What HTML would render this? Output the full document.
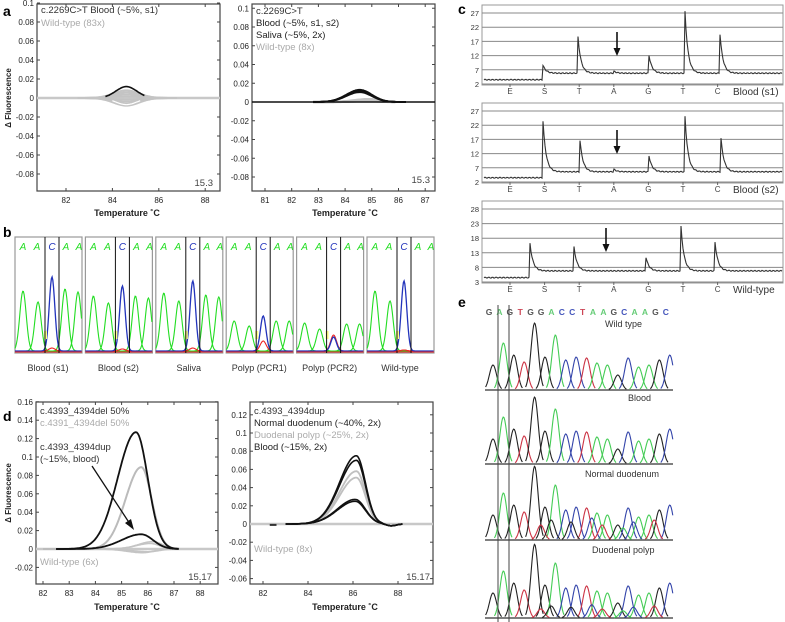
<!DOCTYPE html>
<html><head><meta charset="utf-8"><style>
html,body{margin:0;padding:0;background:#fff;}
svg{display:block;font-family:"Liberation Sans",Arial,sans-serif;}
</style></head><body>
<svg id="fig" width="785" height="622" viewBox="0 0 785 622" xmlns="http://www.w3.org/2000/svg"></svg>
<script>
// ---------- DATA ----------
const aLeftBlack=[[84.6,0.012,0.45,0.45]];
const aLeftGray=[0.008,0.006,0.004,0.002,-0.002,-0.004,-0.006,-0.008];
const aLeftWhite=[[84.6,-0.007,0.45,0.45]];
const aRightBlack=[0.013,0.012,0.011,0.0105];
const aRightGray=[0.003,0.002,0.001];
const aXTicksL=[82,84,86,88];
const aXTicksR=[81,82,83,84,85,86,87];
const aYTicks=[0.1,0.08,0.06,0.04,0.02,0,-0.02,-0.04,-0.06,-0.08];
const bLabels=["Blood (s1)","Blood (s2)","Saliva","Polyp (PCR1)","Polyp (PCR2)","Wild-type"];
const bGreen=[[60,49,62,59],[55,48,55,53],[58,50,56,54],[30,25,30,30],[28,22,27,27],[60,50,0,0]];
const bBlue=[74,65,70,35,14,70];
const bRed=[3,2,3,10,16,1];
const cLetters=["E","S","T","A","G","T","C"];
const c1Peaks=[0,9,22.5,6.5,13.5,27.5,21.5];
const c2Peaks=[0,26,20,6.5,12.5,25,19];
const c3Peaks=[0,17.5,17.5,7,12.5,22,18];
const c1Base=[3.5,5.8];const c2Base=[3.5,5.6];const c3Base=[4.5,6.8];
const c1Ticks=[2,7,12,17,22,27];const c2Ticks=[2,7,12,17,22,27];const c3Ticks=[3,8,13,18,23,28];
const dLeftBlack=[[85.55,0.127,0.7,0.45],[85.75,0.016,0.75,0.45]];
const dLeftGray=[[85.75,0.089,0.6,0.4]];
const dLeftLight=[[86.2,0.008,0.55,0.35],[86.1,0.006,0.55,0.35],[86.0,-0.003,0.6,0.4],[85.8,-0.004,0.6,0.4]];
const dRightBlack=[[86.15,0.075,0.75,0.4],[86.15,0.07,0.75,0.4],[86.1,0.027,0.8,0.45],[86.1,0.025,0.8,0.45]];
const dRightGray=[[86.15,0.058,0.75,0.4],[86.15,0.051,0.75,0.4]];
const dYTicksL=[0.16,0.14,0.12,0.1,0.08,0.06,0.04,0.02,0,-0.02];
const dYTicksR=[0.12,0.1,0.08,0.06,0.04,0.02,0,-0.02,-0.04,-0.06];
const dXTicksL=[82,83,84,85,86,87,88];
const dXTicksR=[82,84,86,88];
const eSeq=["G","A","G","T","G","G","A","C","C","T","A","A","G","C","A","A","G","C"];
const ePeaksWT=[[0,25,"k"],[1,47,"g"],[2,35,"k"],[3,28,"r"],[4,67,"k"],[5,33,"k"],[6,55,"g"],[7,30,"b"],[8,33,"b"],[9,32,"r"],[10,27,"g"],[11,25,"g"],[12,15,"k"],[13,32,"b"],[14,23,"g"],[15,25,"g"],[16,30,"k"],[17,35,"b"]];
const ePeaksND=[[4.6,15,"r"],[5.6,20,"k"],[7.5,18,"k"],[9.5,22,"b"],[10.5,15,"r"],[12.5,12,"g"],[13.5,18,"b"],[15.5,20,"r"]];
// ---------- HELPERS ----------
const svg=document.getElementById('fig');
const NS="http://www.w3.org/2000/svg";
function mk(tag,attrs,parent){const e=document.createElementNS(NS,tag);for(const k in attrs)e.setAttribute(k,attrs[k]);(parent||svg).appendChild(e);return e;}
function txt(x,y,s,size,fill,anchor,weight,parent){const t=mk('text',{x:x,y:y,'font-size':size,fill:fill||'#222','text-anchor':anchor||'start','font-weight':weight||'normal'},parent);t.textContent=s;return t;}
function skew(t,p){const w=t<p[0]?p[2]:p[3];return p[1]*Math.exp(-0.5*Math.pow((t-p[0])/w,2));}
function curvePath(X,Y,t0,t1,fn){let d="";for(let t=t0;t<=t1+1e-9;t+=0.04){d+=(d?"L":"M")+X(t).toFixed(1)+","+Y(fn(t)).toFixed(1);}return d;}
function frame(x0,y0,x1,y1,parent){return mk('rect',{x:x0,y:y0,width:x1-x0,height:y1-y0,fill:'none',stroke:'#444','stroke-width':1.2},parent);}

[["a",3,16],["b",3,237],["c",458,14],["d",3,421],["e",458,307]].forEach(l=>{const t=txt(l[1],l[2],l[0],14,'#000','start','bold');

});

function meltPanel(name,x0,y0,x1,y1,X,Y,xt,yt){
 const g=mk('g',{});
 
 
 frame(x0,y0,x1,y1,g);
 yt.forEach(v=>{const y=Y(v);mk('line',{x1:x0,y1:y,x2:x0+3,y2:y,stroke:'#444'},g);mk('line',{x1:x1,y1:y,x2:x1-3,y2:y,stroke:'#444'},g);
  const l=txt(x0-3,y+3,String(v),8,'#222','end','normal',g);
  
  });
 xt.forEach(v=>{const x=X(v);mk('line',{x1:x,y1:y1,x2:x,y2:y1-3,stroke:'#444'},g);mk('line',{x1:x,y1:y0,x2:x,y2:y0+3,stroke:'#444'},g);
  const l=txt(x,y1+12,String(v),8,'#222','middle','normal',g);
  
  });
 return g;
}
// a-left
const aLX=t=>66+(t-82)*23.2, aLY=v=>98-v*950;
const gaL=meltPanel('melt-plot-a-left',37,4,220,191,aLX,aLY,aXTicksL,aYTicks);
mk('line',{x1:37,y1:aLY(0),x2:220,y2:aLY(0),stroke:'#c8c8c8','stroke-width':2.5},gaL);
aLeftGray.forEach(a=>{const p=mk('path',{d:curvePath(aLX,aLY,82.5,86.8,t=>skew(t,[84.6,a,0.55,0.55])),fill:'none',stroke:'#c4c4c4','stroke-width':2},gaL);
 
 });
aLeftWhite.forEach(c=>{mk('path',{d:curvePath(aLX,aLY,84,85.2,t=>skew(t,c)),fill:'none',stroke:'#fff','stroke-width':1.2},gaL);});
aLeftBlack.forEach(c=>{const p=mk('path',{d:curvePath(aLX,aLY,83.7,85.4,t=>skew(t,c)),fill:'none',stroke:'#111','stroke-width':1.6},gaL);
 
 });
txt(41,13,"c.2269C>T Blood (~5%, s1)",9.5,'#333','start','normal',gaL);
txt(41,26,"Wild-type (83x)",9.5,'#aaa','start','normal',gaL);
txt(213,186,"15.3",9.5,'#444','end','normal',gaL);
const ta1=txt(127,216,"Temperature ˚C",9,'#222','middle','bold',gaL);


const ya=txt(0,0,"Δ Fluorescence",8,'#222','middle','bold');
ya.setAttribute('transform','translate(11,98) rotate(-90)');


// a-right
const aRX=t=>265+(t-81)*26.7, aRY=v=>102-v*937.5;
const gaR=meltPanel('melt-plot-a-right',252,4,435,191,aRX,aRY,aXTicksR,aYTicks);
aRightGray.forEach(a=>{mk('path',{d:curvePath(aRX,aRY,82.8,85.9,t=>skew(t,[84.9,a,0.55,0.35])),fill:'none',stroke:'#c4c4c4','stroke-width':2.5},gaR);});
mk('line',{x1:252,y1:aRY(0),x2:435,y2:aRY(0),stroke:'#111','stroke-width':1.6},gaR);
aRightBlack.forEach(a=>{const p=mk('path',{d:curvePath(aRX,aRY,82.8,86.3,t=>skew(t,[84.55,a,0.5,0.45])),fill:'none',stroke:'#111','stroke-width':1.8},gaR);
 
 });
txt(256,14,"c.2269C>T",9.5,'#333','start','normal',gaR);
txt(256,26,"Blood (~5%, s1, s2)",9.5,'#222','start','normal',gaR);
txt(256,38,"Saliva (~5%, 2x)",9.5,'#222','start','normal',gaR);
txt(256,50,"Wild-type (8x)",9.5,'#aaa','start','normal',gaR);
txt(430,183,"15.3",9.5,'#444','end','normal',gaR);
txt(345,216,"Temperature ˚C",9,'#222','middle','bold',gaR);

// ---------- PANEL B ----------
const bCol={g:'#22dd22',b:'#2233bb',r:'#ee2222',k:'#111'};
bLabels.forEach((lab,i)=>{
 const bx=15+i*70.4, top=237, bot=353, base=351;
 const g=mk('g',{});
 
 
 const w=Math.min(67,435-bx);
 mk('rect',{x:bx,y:top,width:w,height:bot-top,fill:'#fff',stroke:'#999','stroke-width':1.2},g);
 const offs=[8,23,50,63];
 const pk=(c,h,sd)=>{let d="";for(let x=0;x<=w;x+=0.7){const v=h*Math.exp(-0.5*Math.pow((x-c)/sd,2));d+=(d?"L":"M")+(bx+x).toFixed(1)+","+(base-v).toFixed(1);}return d;};
 let gd="";bGreen[i].forEach((h,j)=>{if(h>0&&offs[j]<w)gd+=pk(offs[j],h,3.2);});
 mk('path',{d:gd,fill:'none',stroke:bCol.g,'stroke-width':1.1},g);
 mk('path',{d:pk(37,bRed[i],3),fill:'none',stroke:bCol.r,'stroke-width':1.1},g);
 mk('path',{d:pk(37,bBlue[i],2.8),fill:'none',stroke:bCol.b,'stroke-width':1.3},g);
 mk('line',{x1:bx,y1:base+1,x2:bx+w,y2:base+1,stroke:bCol.r,'stroke-width':1},g);
 mk('rect',{x:bx+29,y:base-20,width:3,height:8,fill:'#ffff88'},g);
 mk('line',{x1:bx+30,y1:top,x2:bx+30,y2:bot,stroke:'#111','stroke-width':1},g);
 if(bx+44<435)mk('line',{x1:bx+44,y1:top,x2:bx+44,y2:bot,stroke:'#111','stroke-width':1},g);
 ["A","A","C","A","A"].forEach((L,j)=>{const xx=[8,22,37,51,64][j];if(bx+xx<435)txt(bx+xx,250,L,10,L==="C"?bCol.b:bCol.g,'middle','normal',g).setAttribute('font-style','italic');});
 const l=txt(bx+33,371,lab,9,'#333','middle','normal',g);
 
 
});

// ---------- PANEL C ----------
const cX=i=>510+i*34.6;
function pyro(name,top,bot,yv0,yv1,ticks,peaks,base,label,arrowX,shift){
 const g=mk('g',{});
 
 
 const Y=v=>bot-(v-yv0)*(bot-(top+8))/(yv1-yv0);
 mk('rect',{x:482,y:top,width:301,height:bot-top+1,fill:'#fff',stroke:'#999','stroke-width':1},g);
 ticks.forEach(v=>{mk('line',{x1:482,y1:Y(v),x2:783,y2:Y(v),stroke:'#888','stroke-width':1},g);
  const l=txt(479,Y(v)+3,String(v),7.5,'#333','end','normal',g);
  
  });
 let d="";const sX=cX(1)+shift[1];
 for(let x=484;x<=782;x+=1){
  let v=x<sX?base[0]:base[1];
  peaks.forEach((h,i)=>{const px=cX(i)+shift[i];if(h>0&&x>=px){v+=(h-base[1])*Math.exp(-(x-px)/3);}});
  v+=Math.sin(x*1.7)*0.18;
  d+=(d?"L":"M")+x+","+Y(v).toFixed(1);
 }
 const p=mk('path',{d:d,fill:'none',stroke:'#333','stroke-width':1.1},g);
 
 
 cLetters.forEach((L,i)=>{mk('line',{x1:cX(i),y1:bot,x2:cX(i),y2:bot+3,stroke:'#666'},g);txt(cX(i),bot+10,L,8,'#444','middle','normal',g);});
 const lb=txt(733,bot+11,label,10,'#333','start','normal',g);
 
 
 const ar=mk('g',{},g);
 
 
 mk('line',{x1:arrowX,y1:top+27,x2:arrowX,y2:top+45,stroke:'#111','stroke-width':1.6},ar);
 mk('path',{d:`M${arrowX-3.5},${top+43}L${arrowX+3.5},${top+43}L${arrowX},${top+51}Z`,fill:'#111'},ar);
}
pyro('pyrogram-blood-s1',5,84,2,27,c1Ticks,c1Peaks,c1Base,"Blood (s1)",617,[0,-2,-2,0,0,2,2]);
pyro('pyrogram-blood-s2',103,182,2,27,c2Ticks,c2Peaks,c2Base,"Blood (s2)",617,[0,-2,0,0,0,2,3]);
pyro('pyrogram-wild-type',201,282,3,28,c3Ticks,c3Peaks.map((v,i)=>i===3?0:v),c3Base,"Wild-type",606,[0,-15,-6,0,-3,-2,-3]);

// ---------- PANEL D ----------
const dLX=t=>43+(t-82)*26.2, dLY=v=>549-v*920;
const gdL=meltPanel('melt-plot-d-left',36,402,218,584,dLX,dLY,dXTicksL,dYTicksL);
mk('line',{x1:36,y1:dLY(0),x2:218,y2:dLY(0),stroke:'#c8c8c8','stroke-width':2.5},gdL);
dLeftLight.forEach(c=>{mk('path',{d:curvePath(dLX,dLY,83.5,87.2,t=>skew(t,c)),fill:'none',stroke:'#c4c4c4','stroke-width':1.6},gdL);});
dLeftGray.forEach(c=>{const p=mk('path',{d:curvePath(dLX,dLY,82,87.2,t=>skew(t,c)),fill:'none',stroke:'#bbb','stroke-width':2},gdL);
 
 });
dLeftBlack.forEach(c=>{const p=mk('path',{d:curvePath(dLX,dLY,82.5,87.2,t=>skew(t,c)),fill:'none',stroke:'#111','stroke-width':1.8},gdL);
 
 });
txt(40,414,"c.4393_4394del  50%",9.5,'#333','start','normal',gdL);
txt(40,426,"c.4391_4394del  50%",9.5,'#aaa','start','normal',gdL);
txt(40,450,"c.4393_4394dup",9.5,'#333','start','normal',gdL);
txt(40,462,"(~15%, blood)",9.5,'#333','start','normal',gdL);
txt(40,565,"Wild-type (6x)",9.5,'#aaa','start','normal',gdL);
txt(212,580,"15.17",9.5,'#444','end','normal',gdL);
const dar=mk('g',{},gdL);


mk('line',{x1:92,y1:466,x2:130,y2:524,stroke:'#111','stroke-width':1.3},dar);
mk('path',{d:'M134,530L125,523L131,519Z',fill:'#111'},dar);
txt(127,610,"Temperature ˚C",9,'#222','middle','bold',gdL);
const yd=txt(0,0,"Δ Fluorescence",8,'#222','middle','bold');
yd.setAttribute('transform','translate(11,493) rotate(-90)');


// d right
const dRX=t=>263+(t-82)*22.5, dRY=v=>524-v*910;
const gdR=meltPanel('melt-plot-d-right',250,402,433,584,dRX,dRY,dXTicksR,dYTicksR);
mk('line',{x1:250,y1:dRY(0),x2:433,y2:dRY(0),stroke:'#c8c8c8','stroke-width':2.5},gdR);
mk('line',{x1:dRX(82.3),y1:dRY(-0.001),x2:dRX(82.6),y2:dRY(-0.001),stroke:'#333','stroke-width':2},gdR);
const dipR=t=>t>87.3?-0.002*Math.exp(-Math.pow((t-87.7)/0.3,2)):0;
dRightGray.forEach(c=>{mk('path',{d:curvePath(dRX,dRY,83,87.4,t=>skew(t,c)),fill:'none',stroke:'#c0c0c0','stroke-width':1.8},gdR);});
dRightBlack.forEach(c=>{const p=mk('path',{d:curvePath(dRX,dRY,83,88.2,t=>skew(t,c)+dipR(t)),fill:'none',stroke:'#111','stroke-width':1.6},gdR);
 
 });
txt(254,414,"c.4393_4394dup",9.5,'#333','start','normal',gdR);
txt(254,426,"Normal duodenum (~40%, 2x)",9.5,'#222','start','normal',gdR);
txt(254,438,"Duodenal polyp (~25%, 2x)",9.5,'#aaa','start','normal',gdR);
txt(254,450,"Blood (~15%, 2x)",9.5,'#222','start','normal',gdR);
txt(254,552,"Wild-type (8x)",9.5,'#aaa','start','normal',gdR);
txt(430,580,"15.17",9.5,'#444','end','normal',gdR);
txt(345,610,"Temperature ˚C",9,'#222','middle','bold',gdR);

// ---------- PANEL E ----------
const eCol={k:'#222',g:'#44cc55',r:'#cc3344',b:'#3344aa'};
const eX=i=>493+i*10.4;
const eBases=[390,464,540,618];
const eLabels=[["Wild type",605,327],["Blood",628,401],["Normal duodenum",585,477],["Duodenal polyp",592,553]];
eSeq.forEach((L,i)=>{const c={G:'#555',A:'#66cc77',T:'#cc4455',C:'#4455bb'}[L];const t=txt(eX(i)-4,315,L,8.5,c,'middle','bold');
 
 });
eBases.forEach((base,k)=>{
 const g=mk('g',{});
 
 
 mk('line',{x1:485,y1:base,x2:673,y2:base,stroke:'#333','stroke-width':1.2},g);
 const pks=k===2||k===3?ePeaksWT.concat(ePeaksND.map(p=>[p[0],p[1]*(k===3?0.6:1),p[2]])):ePeaksWT;
 pks.forEach(p=>{let d="";const cx=eX(p[0]);for(let x=cx-9;x<=cx+9;x+=0.8){const v=p[1]*(k>=2&&p[0]===4?1.1:1)*Math.exp(-0.5*Math.pow((x-cx)/3.6,2));if(x<485||x>673)continue;d+=(d?"L":"M")+x.toFixed(1)+","+(base-v).toFixed(1);}
  mk('path',{d:d,fill:'none',stroke:eCol[p[2]],'stroke-width':1.1},g);});
 const l=txt(eLabels[k][1],eLabels[k][2],eLabels[k][0],9,'#333','start','normal',g);
 
 
});
mk('line',{x1:498,y1:305,x2:498,y2:622,stroke:'#444','stroke-width':1});
mk('line',{x1:509,y1:305,x2:509,y2:622,stroke:'#444','stroke-width':1});
</script>
</body></html>
